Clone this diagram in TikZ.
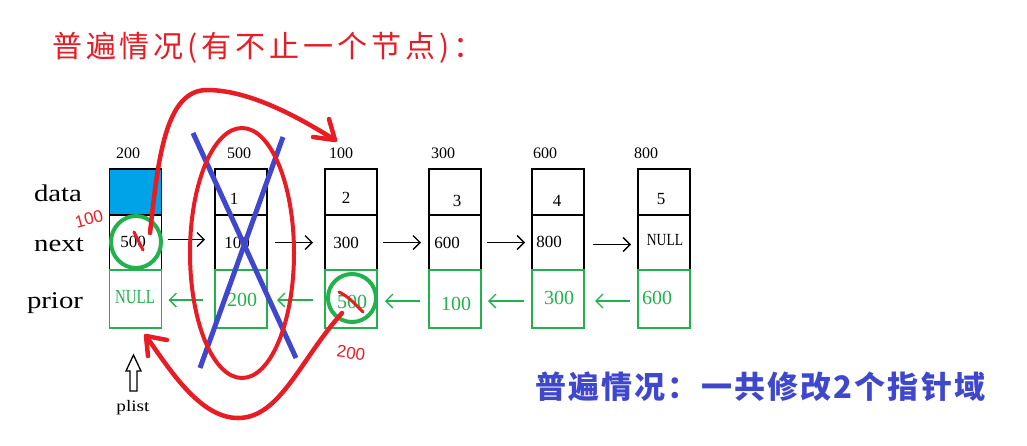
\documentclass[tikz,border=0pt]{standalone}
\usepackage{fontspec}
\setmainfont{Liberation Serif}
\newfontfamily\cjk{Noto Sans CJK SC}
\newfontfamily\cjktitle[LetterSpace=13]{Noto Sans CJK SC}
\newfontfamily\cjksum[LetterSpace=7]{Noto Sans CJK SC}
\newfontfamily\hand{Liberation Sans}
\usetikzlibrary{arrows.meta}
\definecolor{myred}{RGB}{232,28,36}
\definecolor{mygreen}{RGB}{34,177,76}
\definecolor{myblue}{RGB}{63,72,204}
\definecolor{cellblue}{RGB}{0,162,232}
\tikzset{
  cell/.style={draw=black, line width=1.4pt, inner sep=0pt, outer sep=0pt, minimum width=52pt},
  dcell/.style={cell, minimum height=46pt},
  ncell/.style={cell, minimum height=55pt},
  pcell/.style={cell, draw=mygreen, line width=1.6pt, minimum height=58pt},
  num/.style={inner sep=0pt, font=\fontsize{17}{20}\selectfont},
  gnum/.style={inner sep=0pt, text=mygreen, font=\fontsize{20}{22}\selectfont},
  addr/.style={inner sep=0pt, font=\fontsize{16}{18}\selectfont},
  side/.style={inner sep=0pt, xscale=1.2, font=\fontsize{24}{26}\selectfont},
  nextarr/.style={line width=1.3pt, -{Straight Barb[length=7pt,width=14pt]}},
  priorarr/.style={line width=1.3pt, draw=mygreen, -{Straight Barb[length=7pt,width=14pt]}},
  redpen/.style={draw=myred, line width=4.5pt, line cap=round, line join=round},
  greenpen/.style={draw=mygreen, line width=4pt},
  bluepen/.style={draw=myblue, line width=5pt},
  redhand/.style={inner sep=0pt, text=myred, font=\hand\fontsize{17}{18}\selectfont}
}
\begin{document}
\begin{tikzpicture}[x=1pt,y=-1pt]
\useasboundingbox (0,0) rectangle (1027,445);

% titles
\node[anchor=west, inner sep=0pt, text=myred, font=\cjktitle\fontsize{30}{32}\selectfont] (title) at (52,48) {普遍情况(有不止一个节点)：};
\node[anchor=west, inner sep=0pt, text=myblue, font=\cjksum\bfseries\fontsize{31}{33}\selectfont] (summary) at (535,387) {普遍情况：一共修改2个指针域};

% side labels
\node[side] (ldata) at (58,193) {data};
\node[side] (lnext) at (59,245) {next};
\node[side] (lprior) at (55,303) {prior};

% cells
\foreach \i/\x in {1/135.5,2/241,3/351,4/455,5/558,6/664}{
  \node[dcell] (d\i) at (\x,192) {};
  \node[ncell] (n\i) at (\x,242.5) {};
  \node[pcell] (p\i) at (\x,299) {};
}
\fill[cellblue] ([shift={(0.7pt,0.7pt)}]d1.north west) rectangle ([shift={(-0.7pt,-0.7pt)}]d1.south east);
\draw[line width=1.4pt] (d1.north west) rectangle (d1.south east);

% addresses
\node[addr] (a1) at (128,153) {200};
\node[addr] (a2) at (239,153) {500};
\node[addr] (a3) at (341,153) {100};
\node[addr] (a4) at (443,153) {300};
\node[addr] (a5) at (545,153) {600};
\node[addr] (a6) at (646,153) {800};

% contents
\node[num] (t1n) at (133,242) {500};
\node[gnum, xscale=0.75] (t1p) at (135,297) {NULL};
\node[num] (t2d) at (234,199) {1};
\node[num] (t2n) at (237,243) {100};
\node[gnum] (t2p) at (242,300) {200};
\node[num] (t3d) at (346,198) {2};
\node[num] (t3n) at (346,243) {300};
\node[gnum] (t3p) at (352,302) {500};
\node[num] (t4d) at (457,201) {3};
\node[num] (t4n) at (447,243) {600};
\node[gnum] (t4p) at (456,304) {100};
\node[num] (t5d) at (557,201) {4};
\node[num] (t5n) at (549,242) {800};
\node[gnum] (t5p) at (559,298) {300};
\node[num] (t6d) at (661,199) {5};
\node[num, xscale=0.8] (t6n) at (665,240) {NULL};
\node[gnum] (t6p) at (657,298) {600};

% next arrows
\draw[nextarr, shorten <=6pt, shorten >=10pt] ([yshift=3pt]n1.east) -- ([yshift=3pt]n2.west);
\draw[nextarr, shorten <=8pt, shorten >=12pt] (n2.east) -- (n3.west);
\draw[nextarr, shorten <=6pt, shorten >=8pt] (n3.east) -- (n4.west);
\draw[nextarr, shorten <=6pt, shorten >=7pt] (n4.east) -- (n5.west);
\draw[nextarr, shorten <=9pt, shorten >=7pt] ([yshift=-2pt]n5.east) -- ([yshift=-2pt]n6.west);

% prior arrows
\draw[priorarr, shorten <=12pt, shorten >=7pt] ([yshift=-1pt]p2.west) -- ([yshift=-1pt]p1.east);
\draw[priorarr, shorten <=12pt, shorten >=10pt] ([yshift=-1pt]p3.west) -- ([yshift=-1pt]p2.east);
\draw[priorarr, shorten <=9pt, shorten >=8pt] ([yshift=-2pt]p4.west) -- ([yshift=-2pt]p3.east);
\draw[priorarr, shorten <=8pt, shorten >=7pt] ([yshift=-2pt]p5.west) -- ([yshift=-2pt]p4.east);
\draw[priorarr, shorten <=8pt, shorten >=11pt] ([yshift=-2pt]p6.west) -- ([yshift=-2pt]p5.east);

% plist pointer
\node[inner sep=0pt, xscale=1.2, font=\fontsize{16}{18}\selectfont] (plist) at (133,408) {plist};
\draw[line width=1.3pt, line join=miter, fill=white] (130,391) -- (137,391) -- (137,371) -- (141,371) -- (133.5,355) -- (126,371) -- (130,371) -- cycle;

% green circles
\draw[greenpen] (136,242) ellipse [x radius=25, y radius=26];
\draw[greenpen] (352,298) circle [radius=24];

% blue cross
\coordinate (x1a) at (193,133); \coordinate (x1b) at (296,358);
\coordinate (x2a) at (283,137); \coordinate (x2b) at (200,368);
\draw[bluepen] (x1a) -- (x1b);
\draw[bluepen] (x2a) -- (x2b);

% red ellipse around deleted node
\draw[redpen, line width=4pt] (242,253) ellipse [x radius=52, y radius=125];

% red marks
\draw[redpen, line width=3pt] (134,232) -- (143,250);
\draw[redpen, line width=3pt] (339,292) .. controls (348,296) and (356,305) .. (363,312);
\node[redhand, rotate=15] (r100) at (89,219) {100};
\node[redhand, rotate=-8] (r200) at (351,353) {200};

% red top arrow
\coordinate (topstart) at (150,233);
\coordinate (toptip) at (335,140);
\draw[redpen] (topstart) .. controls (158,160) and (165,90) .. (207,90) .. controls (250,90) and (300,118) .. (toptip);
\draw[redpen] (329,119) -- (toptip) -- (313,137);

% red bottom arrow
\coordinate (botstart) at (342,313);
\coordinate (bottip) at (146,336);
\draw[redpen] (botstart) .. controls (300,360) and (280,418) .. (238,418) .. controls (200,418) and (170,370) .. (bottip);
\draw[redpen] (148,356) -- (bottip) -- (167,340);
\end{tikzpicture}
\end{document}
